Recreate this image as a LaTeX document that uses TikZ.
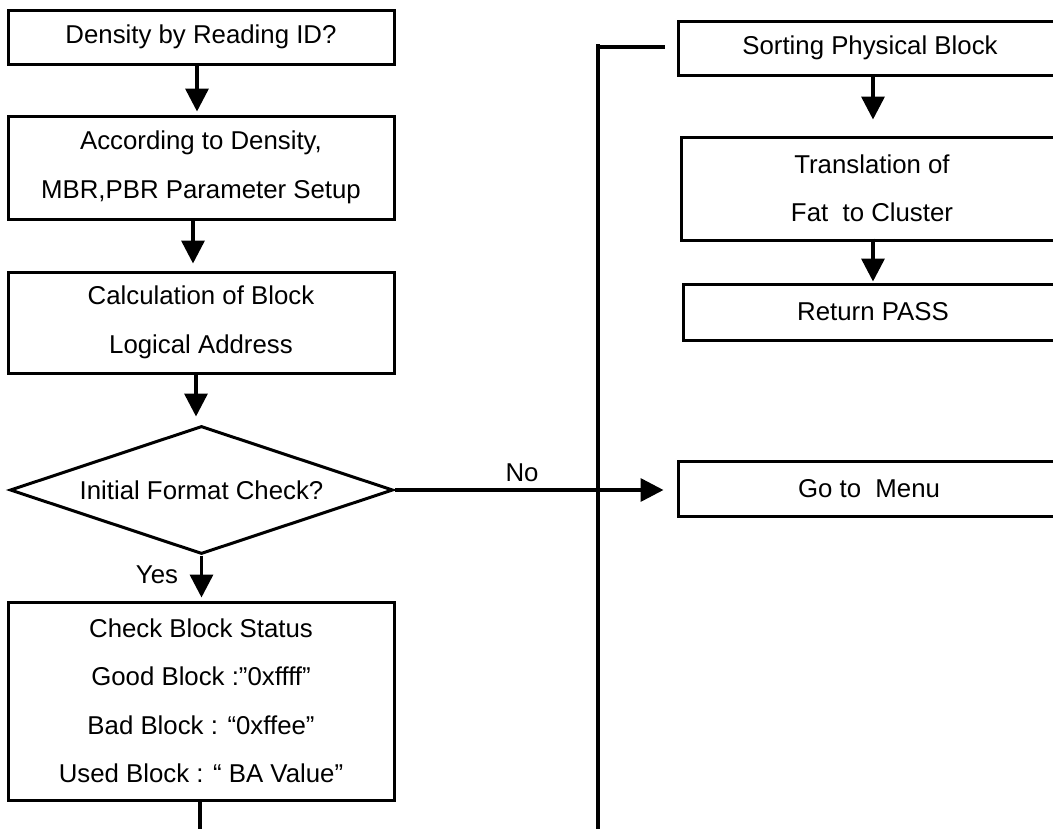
\documentclass[tikz,border=0pt]{standalone}
\usepackage{fontspec}
\setmainfont{Liberation Sans}
\usetikzlibrary{arrows.meta,shapes.geometric}

\begin{document}
\begin{tikzpicture}[x=1pt,y=-1pt,
  txt/.style={font=\fontsize{25.8}{48.5}\selectfont, align=center, inner sep=0pt},
  box/.style={txt, draw, line width=3pt, rectangle},
  decision/.style={txt, draw, line width=3pt, diamond, aspect=3},
  link/.style={line width=3.5pt},
  arr/.style={link, -{Triangle[width=23pt,length=23pt]}}]

\useasboundingbox (0,0) rectangle (1053,828);
\clip (0,0) rectangle (1053,828);

% left column
\node[box, minimum width=386, minimum height=54] (density) at (201,37) {Density by Reading ID?};
\node[box, minimum width=386, minimum height=103] (setup) at (201,167.5)
  {According to Density,\\MBR,PBR Parameter Setup};
\node[box, minimum width=386, minimum height=101] (calc) at (201,322.5)
  {Calculation of Block\\Logical Address};
\node[decision, minimum width=383, minimum height=128] (fmt) at (201.5,490)
  {Initial Format Check?};
\node[box, minimum width=386, minimum height=198] (status) at (201,701)
  {Check Block Status\\Good Block :”0xffff”\\Bad Block : “0xffee”\\Used Block : “ BA Value”};

% right column
\node[box, minimum width=384, minimum height=54] (sort) at (870,48) {Sorting Physical Block};
\node[box, minimum width=382, minimum height=103] (fat) at (872,188.5)
  {Translation of\\Fat\ \ to Cluster};
\node[box, minimum width=380, minimum height=56] (pass) at (873,312) {Return PASS};
\node[box, minimum width=382, minimum height=55] (menu) at (869,488.5) {Go to\ \ Menu};

% labels
\node[txt] (nolbl) at (522,473) {No};
\node[txt] (yeslbl) at (157,575) {Yes};

% free ends of the long lines
\coordinate (busTop) at (598,44);
\coordinate (busJoin) at (598,47);
\coordinate (busBot) at (598,840);
\coordinate (statusOut) at (200,840);

% connectors
\draw[arr, shorten >=3pt] ([xshift=-4]density.south) -- ([xshift=-4]setup.north);
\draw[arr, shorten >=7pt] ([xshift=-8]setup.south) -- ([xshift=-8]calc.north);
\draw[arr, shorten >=8pt] ([xshift=-5]calc.south) -- ([xshift=-5.5]fmt.north);
\draw[arr, shorten >=3pt] (fmt.south) -- (fmt.south |- status.north);
\draw[link] ([xshift=-1]status.south) -- (statusOut);
\draw[arr, shorten >=13pt] (fmt.east) -- (fmt.east -| menu.west);

\draw[link] (busTop) -- (busBot);
\draw[link, shorten >=12pt] (busJoin) -- (busJoin -| sort.west);

\draw[arr, shorten >=16pt] ([xshift=3]sort.south) -- ([xshift=3]sort.south |- fat.north);
\draw[arr, shorten <=-3pt, shorten >=1pt] ([xshift=1]fat.south) -- ([xshift=1]fat.south |- pass.north);
\end{tikzpicture}
\end{document}
